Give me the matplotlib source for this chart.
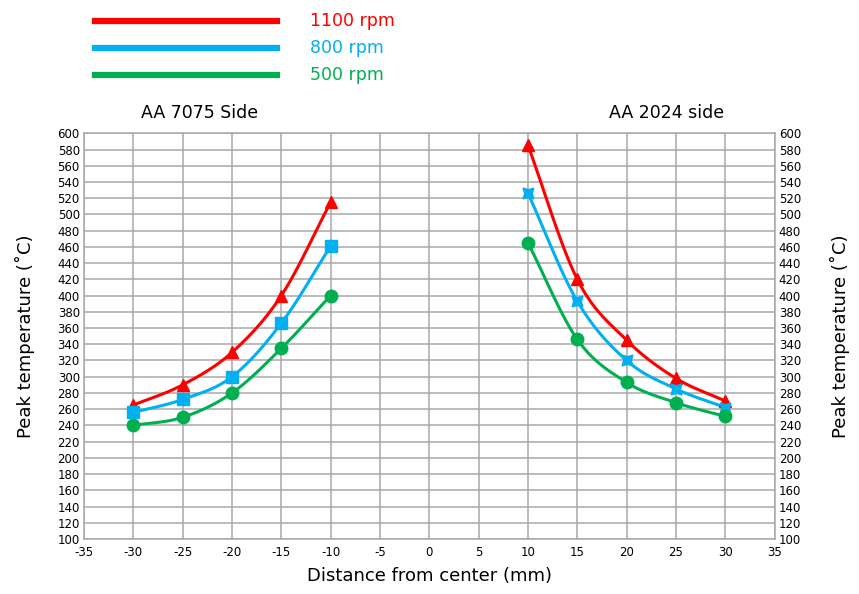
import matplotlib.pyplot as plt
import numpy as np

plt.rcParams['axes.unicode_minus'] = False

# data
x_left = [-30, -25, -20, -15, -10]
x_right = [10, 15, 20, 25, 30]

rpm1100_left = [265, 290, 330, 400, 515]
rpm800_left = [256, 272, 300, 366, 461]
rpm500_left = [240, 250, 280, 335, 400]

rpm1100_right = [585, 420, 345, 298, 270]
rpm800_right = [526, 393, 320, 285, 262]
rpm500_right = [465, 346, 293, 268, 251]

labels = ["1100 rpm", "800 rpm", "500 rpm"]
red = "#ff0000"
blue = "#00b0f0"
green = "#00b050"


def smooth(xs, ys, n=30):
    # catmull-rom curve through the points, for drawing only
    xs = np.asarray(xs, float)
    ys = np.asarray(ys, float)
    px = np.concatenate([[2 * xs[0] - xs[1]], xs, [2 * xs[-1] - xs[-2]]])
    py = np.concatenate([[2 * ys[0] - ys[1]], ys, [2 * ys[-1] - ys[-2]]])
    outx, outy = [], []
    t = np.linspace(0, 1, n)
    for i in range(1, len(px) - 2):
        for p, out in ((px, outx), (py, outy)):
            p0, p1, p2, p3 = p[i - 1], p[i], p[i + 1], p[i + 2]
            out.extend(0.5 * (2 * p1 + (-p0 + p2) * t
                              + (2 * p0 - 5 * p1 + 4 * p2 - p3) * t ** 2
                              + (-p0 + 3 * p1 - 3 * p2 + p3) * t ** 3))
    return outx, outy


fig = plt.figure(figsize=(8.59, 5.94), dpi=100)
ax = fig.add_axes([0.0978, 0.0926, 0.804, 0.683])

series = [
    (rpm1100_left, rpm1100_right, red, "^", "^", 9, 9),
    (rpm800_left, rpm800_right, blue, "s", (4, 1, 45), 8, 11),
    (rpm500_left, rpm500_right, green, "o", "o", 9, 9),
]
for yl, yr, c, ml, mr, msl, msr in series:
    for xs, ys, m, ms in ((x_left, yl, ml, msl), (x_right, yr, mr, msr)):
        sx, sy = smooth(xs, ys)
        ax.plot(sx, sy, color=c, lw=2.2, zorder=3)
        ax.plot(xs, ys, ls="none", marker=m, color=c, ms=ms, zorder=4)

ax.set_xlim(-35, 35)
ax.set_ylim(100, 600)
ax.set_xticks(np.arange(-35, 36, 5))
ax.set_yticks(np.arange(100, 601, 20))
ax.grid(True, color="#a8a8a8", lw=1.1)
ax.set_axisbelow(True)
for s in ax.spines.values():
    s.set_color("#a8a8a8")
    s.set_linewidth(1.1)

ax.set_xlabel("Distance from center (mm)", fontsize=13, labelpad=6)
ax.set_ylabel("Peak temperature (˚C)", fontsize=13, labelpad=16)
ax2 = ax.twinx()
ax2.set_ylim(100, 600)
ax2.set_yticks([])
for s in ax2.spines.values():
    s.set_visible(False)
ax2.set_ylabel("Peak temperature (˚C)", fontsize=13, labelpad=40)

ax.tick_params(axis="both", length=0, labelsize=8.5)
ax.tick_params(axis="x", pad=5)
ax.tick_params(axis="y", pad=3, left=True, right=True,
               labelleft=True, labelright=True)

fig.text(200 / 859, 1 - 113 / 594, "AA 7075 Side", fontsize=12.5,
         ha="center", va="center")
fig.text(667 / 859, 1 - 113 / 594, "AA 2024 side", fontsize=12.5,
         ha="center", va="center")

# legend at the top
for i, (lab, c) in enumerate(zip(labels, [red, blue, green])):
    yy = 1 - (21 + 27 * i) / 594
    fig.add_artist(plt.Line2D([95 / 859, 277 / 859], [yy, yy], color=c,
                              lw=4.5, transform=fig.transFigure))
    fig.text(310 / 859, yy, lab, color=c, fontsize=12.5, va="center")

fig.savefig("out.png", dpi=100)
